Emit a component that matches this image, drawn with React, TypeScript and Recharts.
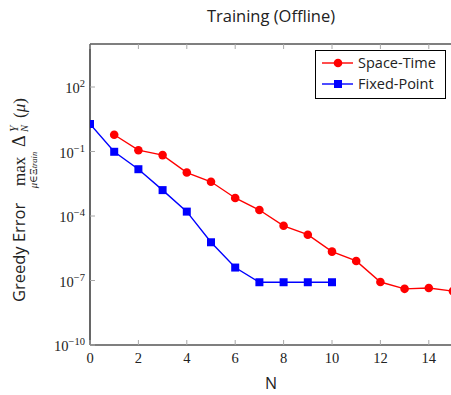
import React from 'react';
import { LineChart, Line, XAxis, YAxis, Legend } from 'recharts';

const nValues = [0, 1, 2, 3, 4, 5, 6, 7, 8, 9, 10, 11, 12, 13, 14, 15];
const spaceTime = [null, 0.6, 0.115, 0.068, 0.0105, 3.9e-3, 6.9e-4, 1.9e-4, 3.5e-5, 1.35e-5, 2.2e-6, 8.1e-7, 8.5e-8, 4.1e-8, 4.5e-8, 3.2e-8];
const fixedPoint = [1.9, 0.097, 0.015, 1.6e-3, 1.6e-4, 6e-6, 4e-7, 8.3e-8, 8.3e-8, 8.3e-8, 8.3e-8, null, null, null, null, null];
const xTicks = [0, 2, 4, 6, 8, 10, 12, 14];
const yTicks = [1e-10, 1e-7, 1e-4, 1e-1, 1e2];
const yExponents: Record<string, string> = {
  '1e-10': '−10',
  '1e-7': '−7',
  '0.0001': '−4',
  '0.1': '−1',
  '100': '2',
};

const data = nValues.map((n, i) => ({ n, st: spaceTime[i], fp: fixedPoint[i] }));

const SERIF = '"Liberation Serif", "DejaVu Serif", serif';
const SANS = '"Open Sans", "DejaVu Sans", sans-serif';
const TICK_GREY = '#a8a8a8';
const TICK_LEN = 5;

const LeftTick = (props: any) => {
  const { x, y, payload } = props;
  return (
    <g>
      <line x1={x} y1={y} x2={x + TICK_LEN} y2={y} stroke={TICK_GREY} strokeWidth={1} />
      <text x={x - 5} y={y + 6} textAnchor="end" fontFamily={SERIF} fontSize={14.5} fill="#222">
        10
        <tspan dy={-6} fontSize={10.5}>{yExponents[String(payload.value)]}</tspan>
      </text>
    </g>
  );
};

const RightTick = (props: any) => {
  const { x, y } = props;
  return <line x1={x} y1={y} x2={x - TICK_LEN} y2={y} stroke={TICK_GREY} strokeWidth={1} />;
};

const BottomTick = (props: any) => {
  const { x, y, payload } = props;
  return (
    <g>
      <line x1={x} y1={y} x2={x} y2={y - TICK_LEN} stroke={TICK_GREY} strokeWidth={1} />
      <text x={x} y={y + 18} textAnchor="middle" fontFamily={SERIF} fontSize={14.5} fill="#222">
        {payload.value}
      </text>
    </g>
  );
};

const TopTick = (props: any) => {
  const { x, y } = props;
  return <line x1={x} y1={y} x2={x} y2={y + TICK_LEN} stroke={TICK_GREY} strokeWidth={1} />;
};

const SquareDot = (props: any) => {
  const { cx, cy, index } = props;
  if (cx == null || cy == null) return <g key={`sq-${index}`} />;
  return <rect key={`sq-${index}`} x={cx - 4} y={cy - 4} width={8} height={8} fill="#0000ff" />;
};

const CircleDot = (props: any) => {
  const { cx, cy, index } = props;
  if (cx == null || cy == null) return <g key={`ci-${index}`} />;
  return <circle key={`ci-${index}`} cx={cx} cy={cy} r={4.3} fill="#ff0000" />;
};

const LegendBox = () => (
  <div
    style={{
      position: 'relative',
      width: 129,
      height: 47,
      border: '1px solid #000',
      background: '#fff',
      fontFamily: SANS,
      fontSize: 14.5,
      color: '#222',
      boxSizing: 'content-box',
    }}
  >
    {[
      { name: 'Space-Time', color: '#ff0000', square: false },
      { name: 'Fixed-Point', color: '#0000ff', square: true },
    ].map((item, i) => (
      <div key={item.name} style={{ position: 'absolute', left: 0, top: 3 + i * 21, height: 18, display: 'flex', alignItems: 'center', whiteSpace: 'nowrap' }}>
        <svg width={42} height={18} style={{ display: 'block' }}>
          <line x1={6} y1={9} x2={37} y2={9} stroke={item.color} strokeWidth={1.4} />
          {item.square ? (
            <rect x={18} y={5} width={8} height={8} fill={item.color} />
          ) : (
            <circle cx={22} cy={9} r={4.3} fill={item.color} />
          )}
        </svg>
        <span style={{ marginLeft: 0, lineHeight: '18px' }}>{item.name}</span>
      </div>
    ))}
  </div>
);

export default function App() {
  return (
    <div style={{ position: 'absolute', left: 0, top: 0, width: 451, height: 395, overflow: 'hidden', background: '#fff' }}>
      <LineChart width={460} height={395} data={data} margin={{ top: 43, right: 7, bottom: 20, left: 0 }}>
        <XAxis
          xAxisId="b"
          dataKey="n"
          type="number"
          domain={[0, 15]}
          ticks={xTicks}
          allowDataOverflow
          height={30}
          tickSize={0}
          tickMargin={0}
          tick={<BottomTick />}
          axisLine={{ stroke: '#000', strokeWidth: 1.2 }}
          tickLine={false}
        />
        <XAxis
          xAxisId="t"
          dataKey="n"
          type="number"
          orientation="top"
          domain={[0, 15]}
          ticks={xTicks}
          allowDataOverflow
          height={1}
          tickSize={0}
          tickMargin={0}
          tick={<TopTick />}
          axisLine={{ stroke: '#000', strokeWidth: 1.2 }}
          tickLine={false}
        />
        <YAxis
          yAxisId="l"
          scale="log"
          domain={[1e-10, 1e4]}
          ticks={yTicks}
          allowDataOverflow
          width={90}
          tickSize={0}
          tickMargin={0}
          tick={<LeftTick />}
          axisLine={{ stroke: '#000', strokeWidth: 1.2 }}
          tickLine={false}
        />
        <YAxis
          yAxisId="r"
          orientation="right"
          scale="log"
          domain={[1e-10, 1e4]}
          ticks={yTicks}
          allowDataOverflow
          width={0}
          tickSize={0}
          tickMargin={0}
          tick={<RightTick />}
          axisLine={{ stroke: '#000', strokeWidth: 1.2 }}
          tickLine={false}
        />
        <Legend
          layout="vertical"
          align="center"
          verticalAlign="middle"
          content={<LegendBox />}
          wrapperStyle={{ position: 'absolute', left: 315, top: 50, width: 131, height: 49 }}
        />
        <Line
          xAxisId="b"
          yAxisId="l"
          dataKey="st"
          name="Space-Time"
          stroke="#ff0000"
          strokeWidth={1.4}
          dot={<CircleDot />}
          activeDot={false}
          isAnimationActive={false}
        />
        <Line
          xAxisId="b"
          yAxisId="l"
          dataKey="fp"
          name="Fixed-Point"
          stroke="#0000ff"
          strokeWidth={1.4}
          dot={<SquareDot />}
          activeDot={false}
          isAnimationActive={false}
        />
      </LineChart>
      <svg width={451} height={395} style={{ position: 'absolute', left: 0, top: 0, pointerEvents: 'none' }}>
        <text x={271} y={22} textAnchor="middle" fontFamily={SANS} fontSize={16.5} fill="#222">
          Training (Offline)
        </text>
        <text x={271} y={389} textAnchor="middle" fontFamily={SANS} fontSize={16} fill="#222">
          N
        </text>
        <g transform="translate(25,302) rotate(-90)" fill="#222">
          <text x={0} y={0} fontFamily={SANS} fontSize={16.5}>Greedy Error</text>
          <text x={116} y={0} fontFamily={SERIF} fontSize={17}>max</text>
          <text x={132} y={12} textAnchor="middle" fontFamily={SERIF} fontSize={10.5}>
            <tspan fontStyle="italic">μ</tspan>∈Ξ<tspan fontStyle="italic" fontSize={8.5}>train</tspan>
          </text>
          <text x={155} y={0} fontFamily={SERIF} fontSize={18}>Δ</text>
          <text x={170} y={-7} fontFamily={SERIF} fontSize={11.5} fontStyle="italic">Y</text>
          <text x={170} y={3} fontFamily={SERIF} fontSize={10.5} fontStyle="italic">N</text>
          <text x={184} y={0} fontFamily={SERIF} fontSize={17}>
            (<tspan fontStyle="italic">μ</tspan>)
          </text>
        </g>
      </svg>
    </div>
  );
}
